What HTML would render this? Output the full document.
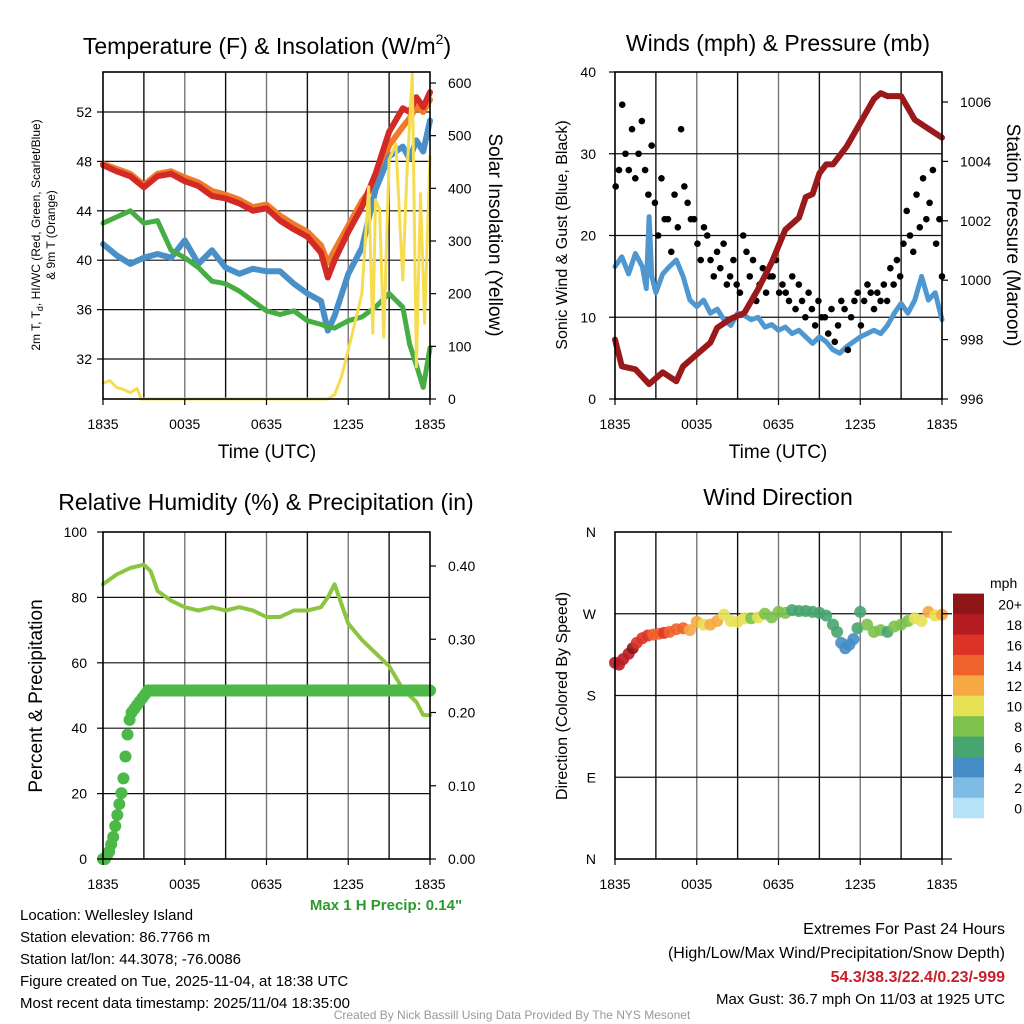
<!DOCTYPE html>
<html><head><meta charset="utf-8">
<style>
body{margin:0;background:#fff;}
svg{display:block;font-family:"Liberation Sans",Arial,sans-serif;}
</style></head>
<body>
<svg id="chart" width="1024" height="1024" viewBox="0 0 1024 1024" xmlns="http://www.w3.org/2000/svg">
<rect width="1024" height="1024" fill="#fff"/>
<g id="grids"></g>
<g id="marks"></g>
<g id="frames"></g>
<g id="texts" font-size="14" fill="#000">
<text x="267" y="54" font-size="23" text-anchor="middle">Temperature (F) &amp; Insolation (W/m<tspan font-size="14" dy="-10">2</tspan><tspan dy="10">)</tspan></text>
<text x="778" y="51" font-size="23" text-anchor="middle">Winds (mph) &amp; Pressure (mb)</text>
<text x="266" y="510" font-size="23" text-anchor="middle">Relative Humidity (%) &amp; Precipitation (in)</text>
<text x="778" y="505" font-size="23" text-anchor="middle">Wind Direction</text>

<text x="267" y="458" font-size="19" text-anchor="middle">Time (UTC)</text>
<text x="778" y="458" font-size="19" text-anchor="middle">Time (UTC)</text>

<g font-size="12" text-anchor="middle">
<text transform="translate(40,235) rotate(-90)">2m T, T<tspan font-size="9" dy="3">d</tspan><tspan dy="-3">, HI/WC (Red, Green, Scarlet/Blue)</tspan></text>
<text transform="translate(55,235) rotate(-90)">&amp; 9m T (Orange)</text>
</g>
<text transform="translate(489,235) rotate(90)" font-size="19" text-anchor="middle">Solar Insolation (Yellow)</text>
<text transform="translate(567,235) rotate(-90)" font-size="16" text-anchor="middle">Sonic Wind &amp; Gust (Blue, Black)</text>
<text transform="translate(1007,235) rotate(90)" font-size="19" text-anchor="middle">Station Pressure (Maroon)</text>
<text transform="translate(42,696) rotate(-90)" font-size="19" text-anchor="middle">Percent &amp; Precipitation</text>
<text transform="translate(567,696) rotate(-90)" font-size="16" text-anchor="middle">Direction (Colored By Speed)</text>

<text x="386" y="910" font-size="15" font-weight="bold" fill="#2b9a2b" text-anchor="middle">Max 1 H Precip: 0.14"</text>
<g font-size="15">
<text x="20" y="920">Location: Wellesley Island</text>
<text x="20" y="942">Station elevation: 86.7766 m</text>
<text x="20" y="964">Station lat/lon: 44.3078; -76.0086</text>
<text x="20" y="986">Figure created on Tue, 2025-11-04, at 18:38 UTC</text>
<text x="20" y="1008">Most recent data timestamp: 2025/11/04 18:35:00</text>
</g>
<g font-size="16" text-anchor="end">
<text x="1005" y="934">Extremes For Past 24 Hours</text>
<text x="1005" y="958">(High/Low/Max Wind/Precipitation/Snow Depth)</text>
<text x="1005" y="982" font-weight="bold" fill="#c8202a">54.3/38.3/22.4/0.23/-999</text>
<text x="1005" y="1004" font-size="15">Max Gust: 36.7 mph On 11/03 at 1925 UTC</text>
</g>
<text x="512" y="1019" font-size="12" fill="#999" text-anchor="middle">Created By Nick Bassill Using Data Provided By The NYS Mesonet</text>
<text x="990" y="588" font-size="14">mph</text>
</g>
</svg>
<script>
// ---------- data ----------
const tempHours = [0,1,2,3,4,5,6,7,8,9,10,11,12,13,14,15,16,16.5,17,18,19,20,21,22,22.5,23,23.5,24];
const tempRed   = [47.7,47.2,46.8,45.9,46.8,47.0,46.4,46.0,45.2,45.0,44.6,44.0,44.2,43.2,42.5,41.9,40.6,38.6,40.0,42.3,44.3,47.0,50.4,52.3,52.0,53.2,52.4,53.6];
const tempOrange= [47.8,47.4,47.0,46.1,47.0,47.2,46.7,46.3,45.6,45.3,44.9,44.3,44.5,43.6,42.9,42.3,41.2,39.8,40.8,42.8,44.8,46.2,49.3,50.8,51.5,52.4,52.0,53.0];
const tempBlue  = [41.3,40.4,39.7,40.2,40.5,40.2,41.6,39.7,40.8,39.4,38.9,39.3,39.1,39.1,38.1,37.3,36.7,34.3,35.5,38.9,41.0,45.7,48.4,49.2,48.2,49.7,48.8,51.3];
const tempGreen = [43.0,43.5,44.0,43.0,43.2,40.8,40.2,39.4,38.3,38.1,37.5,36.7,35.9,35.6,35.9,35.1,34.8,34.6,34.5,35.1,35.4,36.2,37.3,36.2,33.2,31.5,29.7,32.9];
const solarHours = [0,0.5,1,1.5,2,2.5,2.8,4,8,12,16,16.5,17,17.5,18,19,19.5,19.8,20,20.3,20.6,21,21.5,22,22.3,22.7,23,23.3,23.6,24];
const solarVals  = [30,35,22,18,12,20,0,0,0,0,0,0,8,42,93,200,403,125,378,360,118,454,485,226,422,618,61,390,144,460];

const presHours = [0,0.5,1.5,2.5,3.5,4.5,5,6,7,7.5,8.5,9.5,10.5,11.5,12.5,13.5,14,14.5,15,15.5,16,16.5,17,18,19,19.5,20,20.5,21,22,23,24];
const presVals  = [998.0,997.1,997.0,996.5,996.9,996.6,997.1,997.5,997.9,998.4,998.7,998.9,999.7,1000.6,1001.7,1002.1,1002.8,1002.9,1003.6,1003.9,1003.9,1004.2,1004.5,1005.3,1006.1,1006.3,1006.2,1006.2,1006.2,1005.4,1005.1,1004.8];
const windHours = [0,0.5,1,1.5,2,2.3,2.5,2.7,3,3.5,4,4.5,5,5.5,6,6.5,7,7.5,8,8.5,9,9.5,10,10.5,11,11.5,12,12.5,13,13.5,14,14.5,15,15.5,16,16.5,17,17.5,18,18.5,19,19.5,20,20.5,21,21.5,22,22.5,23,23.5,24];
const windVals  = [16.2,17.4,15.3,17.8,16.2,13.5,22.3,15.0,13.0,15.3,16.2,17.0,15.0,12.1,11.3,12.1,10.5,11.0,9.7,9.0,10.5,10.2,9.7,10.0,8.8,9.1,8.4,8.8,8.0,8.4,7.6,6.8,7.6,7.0,6.0,5.6,6.4,7.0,7.6,8.0,8.4,8.0,9.0,10.5,11.7,10.5,12.1,15.0,12.1,13.0,9.7];
const gustVals  = [26,28,36,30,28,33,27,30,34,28,25,31,24,20,27,22,22,18,25,21,33,26,24,22,22,19,17,21,20,17,15,18,16,19,14,15,17,14,13,20,18,15,17,12,14,16,13,15,15,17,13,14,13,12,15,11,14,12,10,13,11,9,12,10,10,8,11,7,9,12,11,6,10,12,13,9,12,14,13,11,13,12,14,12,16,14,17,15,19,23,20,18,25,21,27,22,24,28,19,22,15];

const rhHours = [0,1,2,3,3.5,4,5,6,7,8,9,10,11,12,13,14,15,16,16.5,17,17.5,18,19,20,21,22,23,23.5,24];
const rhVals  = [84,87,89,90,88,82,79,77,76,77,76,77,76,74,74,76,76,77,80,84,78,72,67,63,59,52,48,44,44];
const precipHours = [0,0.15,0.3,0.45,0.6,0.75,0.9,1.05,1.2,1.35,1.5,1.65,1.8,1.95,2.1,2.3,2.5,2.7,2.9,3.1,3.3];
const precipVals  = [0,0,0.005,0.01,0.02,0.03,0.045,0.06,0.075,0.09,0.11,0.14,0.17,0.19,0.20,0.205,0.21,0.215,0.22,0.225,0.23];
const precipFlat = 0.23;

const dirHours = [0,0.3,0.6,1,1.3,1.6,2,2.4,2.8,3.2,3.6,4,4.5,5,5.5,6,6.5,7,7.5,8,8.5,9,9.5,10,10.5,11,11.5,12,12.5,13,13.5,14,14.5,15,15.5,16,16.3,16.6,16.9,17.2,17.5,17.8,18,18.5,19,19.5,20,20.5,21,21.5,22,22.5,23,23.5,24];
const dirVals  = [216,214,220,226,232,238,243,246,247,248,249,250,253,254,252,261,258,258,262,269,262,261,265,265,266,270,266,272,271,274,273,273,272,271,268,258,250,238,232,236,242,254,272,258,250,252,250,256,258,262,265,262,272,268,269];
const dirSpeed = [19,18,18,19,20,17,16,16,15,15,16,15,14,15,13,12,11,12,12,11,10,11,10,9,10,9,8,8,8,7,7,7,7,7,6,6,6,5,4,4,5,6,7,8,8,9,7,8,9,9,10,11,12,10,12];

const speedColors = ['#b5e2f7','#7ebbe5','#468dc7','#47a56f','#7cc24b','#e8e155','#f6a943','#f0622b','#dc3327','#b81c23','#8e1518'];
const speedLabels = ['0','2','4','6','8','10','12','14','16','18','20+'];

// ---------- helpers ----------
const NS='http://www.w3.org/2000/svg';
const G=document.getElementById('grids'), M=document.getElementById('marks'), F=document.getElementById('frames'), T=document.getElementById('texts');
function el(tag,attrs,parent){const e=document.createElementNS(NS,tag);for(const k in attrs)e.setAttribute(k,attrs[k]);parent.appendChild(e);return e;}
function lin(d0,d1,r0,r1){return v=>r0+(v-d0)*(r1-r0)/(d1-d0);}

const xTickLabels=['1835','0035','0635','1235','1835'];
function panel(x0,x1,y0,y1,hLines,prefix){
  for(let h=3;h<24;h+=3){const x=x0+(x1-x0)*h/24;
    const l=el('line',{x1:x,x2:x,y1:y0,y2:y1,stroke:(h%6===0)?'#777':'#111','stroke-width':1.4},G);
    
    }
  hLines.forEach(y=>{const l=el('line',{x1:x0,x2:x1,y1:y,y2:y,stroke:'#111','stroke-width':1.2},G);
    
    });
  const r=el('rect',{x:x0,y:y0,width:x1-x0,height:y1-y0,fill:'none',stroke:'#000','stroke-width':1.6},F);
  
  
  xTickLabels.forEach((t,i)=>{const x=x0+(x1-x0)*i/4;
    el('line',{x1:x,x2:x,y1:y1,y2:y1+6,stroke:'#000','stroke-width':1.2},F);
    const tx=el('text',{x:x,y:y1+30,'text-anchor':'middle','font-size':14},T);tx.textContent=t;
    
    });
}
function yLabels(vals,scale,x,anchor,prefix,frameX,fmt){
  vals.forEach(v=>{const tx=el('text',{x:x,y:scale(v)+5,'text-anchor':anchor,'font-size':14},T);tx.textContent=fmt?fmt(v):v;
    
    
    const dx=anchor==='end'?-6:6;
    el('line',{x1:frameX,x2:frameX+dx,y1:scale(v),y2:scale(v),stroke:'#000','stroke-width':1.2},F);});
}
function poly(xs,ys,xsc,ysc,color,w,name){
  const pts=xs.map((h,i)=>xsc(h).toFixed(1)+','+ysc(ys[i]).toFixed(1)).join(' ');
  const p=el('polyline',{points:pts,fill:'none',stroke:color,'stroke-width':w,'stroke-linejoin':'round','stroke-linecap':'round'},M);
  
  
}

// ---------- panel 1: temperature ----------
const x1s=lin(0,24,103,430);
const tY=lin(52,32,112,359);
const sY=lin(0,600,399,83);
panel(103,430,72,399,[48,44,40,36,52,32].map(tY),'temp');
yLabels([32,36,40,44,48,52],tY,92,'end','temp-y',103);
yLabels([0,100,200,300,400,500,600],sY,448,'start','solar-y',430);
poly(tempHours,tempOrange,x1s,tY,'#f07a2a',6,'temp-9m-orange-line');
poly(tempHours,tempRed,x1s,tY,'#d42a26',6,'temp-2m-red-line');
poly(tempHours,tempBlue,x1s,tY,'#4a90c8',6,'wind-chill-blue-line');
poly(tempHours,tempGreen,x1s,tY,'#46ad42',5,'dewpoint-green-line');
poly(solarHours,solarVals,x1s,sY,'#f6dd50',3,'solar-insolation-line');

// ---------- panel 2: winds ----------
const x2s=lin(0,24,615,942);
const wY=lin(0,40,399,72);
const pY=lin(996,1006,399,102);
panel(615,942,72,399,[10,20,30].map(wY),'wind');
yLabels([0,10,20,30,40],wY,596,'end','wind-y',615);
yLabels([996,998,1000,1002,1004,1006],pY,960,'start','pressure-y',942);
poly(windHours,windVals,x2s,wY,'#4f97d0',5,'sonic-wind-line');
gustVals.forEach((v,i)=>{const h=Math.min(24,i*0.24+0.05);
  const c=el('circle',{cx:x2s(h),cy:wY(v),r:3.3,fill:'#000'},M);
  
  });
poly(presHours,presVals,x2s,pY,'#9a1a1c',6,'pressure-maroon-line');

// ---------- panel 3: humidity ----------
const rY=lin(0,100,859,532);
const qY=lin(0,0.4,859,566);
panel(103,430,532,859,[20,40,60,80].map(rY),'rh');
yLabels([0,20,40,60,80,100],rY,87,'end','rh-y',103);
yLabels([0,0.1,0.2,0.3,0.4],qY,448,'start','precip-y',430,v=>v.toFixed(2));
poly(rhHours,rhVals,x1s,rY,'#8cc640',4,'rh-line');
precipHours.forEach((h,i)=>{const c=el('circle',{cx:x1s(h),cy:qY(precipVals[i]),r:6,fill:'#4cb847'},M);
  
  });
const pb=el('rect',{x:x1s(3.3)-6,y:qY(precipFlat)-6,width:x1s(24)-x1s(3.3)+12,height:12,rx:6,fill:'#4cb847'},M);



// ---------- panel 4: direction ----------
const dY=lin(0,360,859,532);
panel(615,942,532,859,[90,180,270].map(dY),'dir');
['N','E','S','W','N'].forEach((t,i)=>{const y=dY(i*90);
  const tx=el('text',{x:596,y:y+5,'text-anchor':'end','font-size':14},T);tx.textContent=t;
  
  
  el('line',{x1:942,x2:952,y1:y,y2:y,stroke:'#000','stroke-width':1.2},F);});
dirHours.forEach((h,i)=>{const b=Math.min(10,Math.floor(dirSpeed[i]/2));
  const c=el('circle',{cx:x2s(h),cy:dY(dirVals[i]),r:6,fill:speedColors[b],'fill-opacity':0.9},M);
  
  });
speedColors.forEach((c,i)=>{const y=818-(i+1)*20.4;
  const r=el('rect',{x:953,y:y,width:31,height:20.6,fill:c},M);
  
  
  const tx=el('text',{x:1022,y:y+16,'text-anchor':'end','font-size':14},T);tx.textContent=speedLabels[i];
  
  });
</script>
</body></html>
